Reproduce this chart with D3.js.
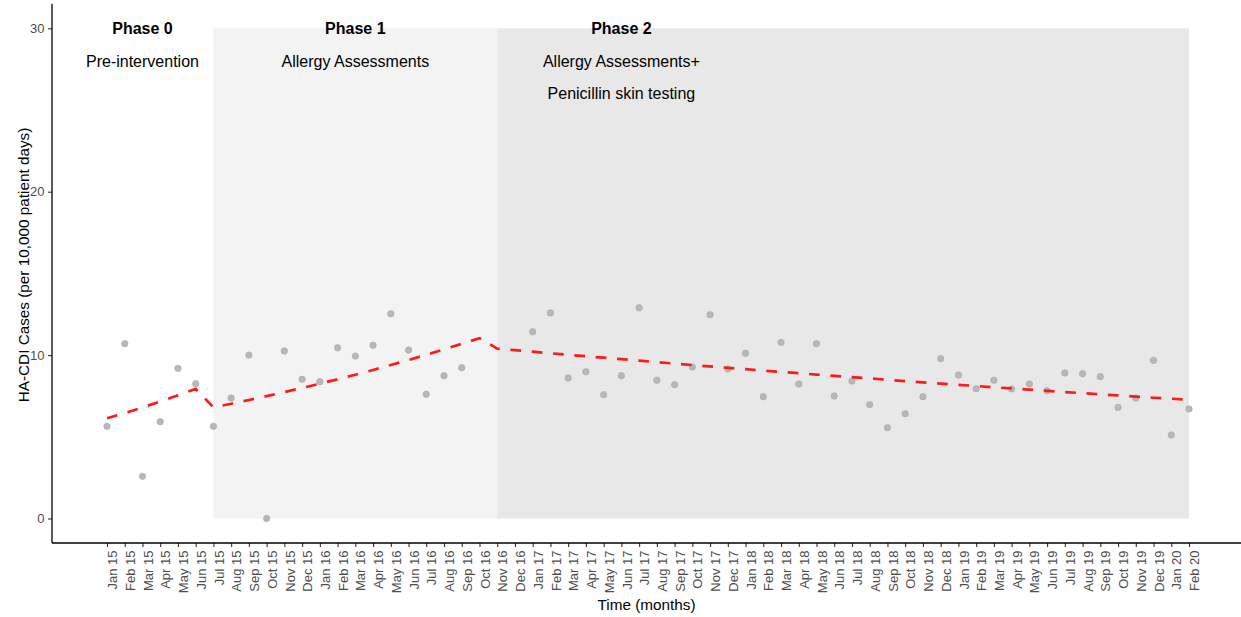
<!DOCTYPE html>
<html>
<head>
<meta charset="utf-8">
<script src="https://cdn.jsdelivr.net/npm/d3@7"></script>
<style>
  html, body { margin: 0; padding: 0; background: #fff; }
  svg { display: block; font-family: "Liberation Sans", Arial, sans-serif; }
</style>
</head>
<body>
<svg id="chart" width="1241" height="617"></svg>
<script>
// Month labels along the x axis (Jan 2015 – Feb 2020)
const months = [
  "Jan 15","Feb 15","Mar 15","Apr 15","May 15","Jun 15","Jul 15","Aug 15","Sep 15","Oct 15","Nov 15","Dec 15",
  "Jan 16","Feb 16","Mar 16","Apr 16","May 16","Jun 16","Jul 16","Aug 16","Sep 16","Oct 16","Nov 16","Dec 16",
  "Jan 17","Feb 17","Mar 17","Apr 17","May 17","Jun 17","Jul 17","Aug 17","Sep 17","Oct 17","Nov 17","Dec 17",
  "Jan 18","Feb 18","Mar 18","Apr 18","May 18","Jun 18","Jul 18","Aug 18","Sep 18","Oct 18","Nov 18","Dec 18",
  "Jan 19","Feb 19","Mar 19","Apr 19","May 19","Jun 19","Jul 19","Aug 19","Sep 19","Oct 19","Nov 19","Dec 19",
  "Jan 20","Feb 20"
];

// Observed monthly HA-CDI rate per 10,000 patient days (null = no observation)
const observed = [
  5.64, 10.70, 2.58, 5.92, 9.19, 8.25, 5.64, 7.37, 10.00, 0.00, 10.25, 8.52,
  8.37, 10.45, 9.94, 10.60, 12.53, 10.31, 7.60, 8.74, 9.23, null, null, null,
  11.43, 12.58, 8.60, 8.98, 7.58, 8.74, 12.90, 8.46, 8.19, 9.27, 12.47, 9.15,
  10.11, 7.45, 10.78, 8.23, 10.70, 7.50, 8.41, 6.97, 5.56, 6.41, 7.45, 9.78,
  8.78, 7.94, 8.46, 7.93, 8.23, 7.82, 8.90, 8.86, 8.68, 6.80, 7.37, 9.68,
  5.11, 6.70
];

// Segmented-regression fitted rate for each month
const fitted = [
  6.13, 6.45, 6.80, 7.16, 7.54, 7.93,
  6.80, 7.02, 7.25, 7.49, 7.74, 7.99, 8.25, 8.52, 8.80, 9.09, 9.39, 9.70, 10.02, 10.35, 10.69, 11.04,
  10.40, 10.30, 10.21, 10.11, 10.02, 9.93, 9.84, 9.75, 9.66, 9.57, 9.48, 9.39, 9.31, 9.22, 9.14, 9.05,
  8.97, 8.89, 8.81, 8.73, 8.65, 8.57, 8.49, 8.41, 8.33, 8.26, 8.18, 8.11, 8.03, 7.96, 7.89, 7.81,
  7.74, 7.67, 7.60, 7.53, 7.46, 7.39, 7.33, 7.26
];

// Study phases: shaded month span (start/end month), label month, title and description lines
const phaseTitles = ["Phase 0", "Phase 1", "Phase 2"];
const phaseLines = [["Pre-intervention"], ["Allergy Assessments"], ["Allergy Assessments+", "Penicillin skin testing"]];
const phaseLabelMonth = ["Mar 15", "Mar 16", "Jun 17"];
const phaseShadeStart = [null, "Jul 15", "Nov 16"];
const phaseShadeEnd = [null, "Nov 16", "Feb 20"];
const phaseShadeColor = [null, "#f3f3f3", "#e8e8e8"];

const yTicks = [0, 10, 20, 30];

// ---- layout ----
const svg = d3.select("#chart");
const panel = { left: 52, right: 1241, top: 3.8, bottom: 543 };

const monthIndex = d3.scaleOrdinal().domain(months).range(d3.range(months.length));
const x = d3.scaleLinear().domain([0, months.length - 1]).range([107, 1189]);
const xm = m => x(monthIndex(m));
const y = d3.scaleLinear().domain([-1.5, 31.5]).range([panel.bottom, panel.top]);

// Phase shading
const shades = phaseTitles.map((t, i) => ({ i, s: phaseShadeStart[i], e: phaseShadeEnd[i], c: phaseShadeColor[i] }))
  .filter(d => d.s);
svg.append("g").selectAll("rect").data(shades).join("rect")
  .attr("x", d => xm(d.s))
  .attr("width", d => xm(d.e) - xm(d.s))
  .attr("y", y(30))
  .attr("height", y(0) - y(30))
  .attr("fill", d => d.c);

// Phase labels
const labels = svg.append("g").attr("text-anchor", "middle").attr("fill", "#000");
phaseTitles.forEach((t, i) => {
  labels.append("text")
    .attr("x", xm(phaseLabelMonth[i])).attr("y", y(30)).attr("dy", "0.36em")
    .attr("font-size", 16).attr("font-weight", "bold").text(t);
  phaseLines[i].forEach((line, j) => {
    labels.append("text")
      .attr("x", xm(phaseLabelMonth[i])).attr("y", y(28 - 2 * j)).attr("dy", "0.36em")
      .attr("font-size", 16).text(line);
  });
});

// Observed points
svg.append("g").selectAll("circle")
  .data(observed.map((v, i) => ({ i, v })).filter(d => d.v !== null))
  .join("circle")
  .attr("cx", d => x(d.i))
  .attr("cy", d => y(d.v))
  .attr("r", 3.2)
  .attr("fill", "#b8b8b8")
  .attr("stroke", "#a6a6a6")
  .attr("stroke-width", 0.6);

// Fitted trend
const line = d3.line().x((d, i) => x(i)).y(d => y(d));
svg.append("path")
  .datum(fitted)
  .attr("d", line)
  .attr("fill", "none")
  .attr("stroke", "#ff1a1a")
  .attr("stroke-width", 2.7)
  .attr("stroke-dasharray", "10.7 10.7");

// Axes
const xAxis = d3.axisBottom(x)
  .tickValues(d3.range(months.length))
  .tickFormat(i => months[i])
  .tickSize(4).tickSizeOuter(0);
const gx = svg.append("g").attr("transform", `translate(0,${panel.bottom})`).call(xAxis);
gx.select(".domain").remove();
gx.selectAll(".tick line").attr("stroke", "#333").attr("stroke-width", 1.1);
gx.selectAll(".tick text")
  .attr("font-size", 13)
  .attr("font-family", "Liberation Sans, Arial, sans-serif")
  .attr("fill", "#4d4d4d")
  .attr("text-anchor", "end")
  .attr("transform", "rotate(-90)")
  .attr("x", -7.5)
  .attr("y", 0)
  .attr("dy", "0.74em");

const yAxis = d3.axisLeft(y).tickValues(yTicks).tickSize(4).tickSizeOuter(0);
const gy = svg.append("g").attr("transform", `translate(${panel.left},0)`).call(yAxis);
gy.select(".domain").remove();
gy.selectAll(".tick line").attr("stroke", "#333").attr("stroke-width", 1.1);
gy.selectAll(".tick text")
  .attr("font-size", 13)
  .attr("font-family", "Liberation Sans, Arial, sans-serif")
  .attr("fill", "#4d4d4d")
  .attr("x", -7.5);

// Axis lines
svg.append("line")
  .attr("x1", panel.left).attr("x2", panel.right)
  .attr("y1", panel.bottom).attr("y2", panel.bottom)
  .attr("stroke", "#000").attr("stroke-width", 1.3);
svg.append("line")
  .attr("x1", panel.left).attr("x2", panel.left)
  .attr("y1", panel.top).attr("y2", panel.bottom)
  .attr("stroke", "#000").attr("stroke-width", 1.3);

// Axis titles
svg.append("text")
  .attr("x", (panel.left + panel.right) / 2).attr("y", 609.5)
  .attr("text-anchor", "middle").attr("font-size", 15.3).attr("fill", "#000")
  .text("Time (months)");
svg.append("text")
  .attr("transform", `translate(29,265) rotate(-90)`)
  .attr("text-anchor", "middle").attr("font-size", 15.3).attr("fill", "#000")
  .text("HA-CDI Cases (per 10,000 patient days)");
</script>
</body>
</html>
